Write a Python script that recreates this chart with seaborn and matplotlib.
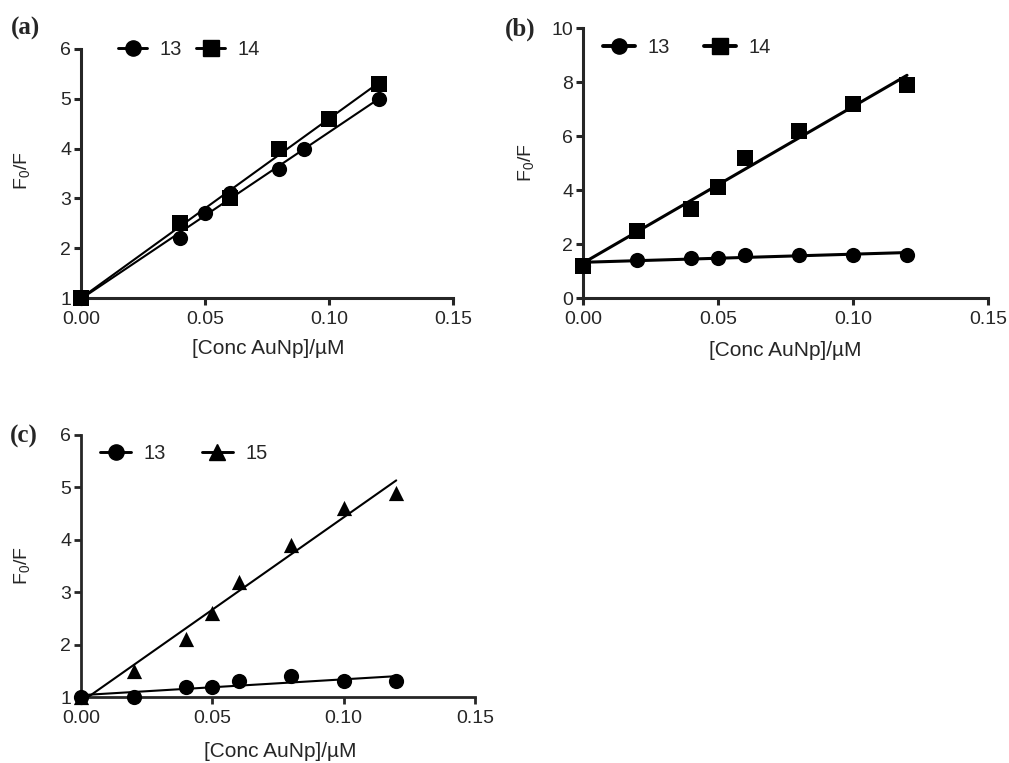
import numpy as np
import matplotlib.pyplot as plt
import seaborn as sns
from matplotlib.lines import Line2D

# ------------------------------------------
# style
# ------------------------------------------
sns.set_style("ticks")
plt.rcParams['font.family'] = ['Liberation Sans', 'DejaVu Sans']
plt.rcParams['mathtext.default'] = 'regular'

# ------------------------------------------
# data
# ------------------------------------------
A_X13 = [0.0, 0.04, 0.05, 0.06, 0.08, 0.09, 0.12]
A_Y13 = [1.0, 2.2, 2.7, 3.1, 3.6, 4.0, 5.0]
A_X14 = [0.0, 0.04, 0.06, 0.08, 0.10, 0.12]
A_Y14 = [1.0, 2.5, 3.0, 4.0, 4.6, 5.3]

CONC = [0.0, 0.02, 0.04, 0.05, 0.06, 0.08, 0.10, 0.12]
B_Y13 = [1.2, 1.4, 1.5, 1.5, 1.6, 1.6, 1.6, 1.6]
B_Y14 = [1.2, 2.5, 3.3, 4.1, 5.2, 6.2, 7.2, 7.9]
C_Y13 = [1.0, 1.0, 1.2, 1.2, 1.3, 1.4, 1.3, 1.3]
C_Y15 = [1.0, 1.5, 2.1, 2.6, 3.2, 3.9, 4.6, 4.9]

X_TICKS = [0.00, 0.05, 0.10, 0.15]
X_LABEL = "[Conc AuNp]/\u00b5M"
Y_LABEL = "F$_0$/F"


def draw_panel(ax, series, ylim, yticks, lw, spine_w, leg_pos, handle_len,
               colspace, ylab_pos, xlab_pos):
    for label, x, y, marker, size in series:
        sns.regplot(x=np.array(x), y=np.array(y), ax=ax, ci=None, marker=marker,
                    color='black',
                    scatter_kws={'s': size, 'alpha': 1, 'linewidths': 0,
                                 'clip_on': False, 'zorder': 4},
                    line_kws={'lw': lw, 'zorder': 3})

    ax.set_xlim(0, 0.15)
    ax.set_ylim(*ylim)
    ax.set_xticks(X_TICKS)
    ax.set_xticklabels([f"{t:.2f}" for t in X_TICKS])
    ax.set_yticks(yticks)
    ax.tick_params(labelsize=14, length=5, width=spine_w, direction='out')
    ax.tick_params(axis='x', pad=4)
    ax.tick_params(axis='y', pad=2)
    for s in ['left', 'bottom']:
        ax.spines[s].set_linewidth(spine_w)
    sns.despine(ax=ax)

    ax.set_xlabel(X_LABEL, fontsize=15)
    ax.set_ylabel(Y_LABEL, fontsize=14)
    ax.xaxis.set_label_coords(*xlab_pos)
    ax.yaxis.set_label_coords(*ylab_pos)

    handles = [Line2D([], [], color='black', lw=lw + 0.6, marker=m,
                      markersize=np.sqrt(s), label=lab)
               for lab, _, _, m, s in series]
    ax.legend(handles=handles, loc='center left', bbox_to_anchor=leg_pos,
              ncol=2, frameon=False, fontsize=14.5, borderpad=0,
              borderaxespad=0, handlelength=handle_len, handletextpad=0.6,
              columnspacing=colspace)


fig = plt.figure(figsize=(10.09, 7.63), dpi=100)
ax_a = fig.add_axes([0.0803, 0.6094, 0.3687, 0.3264])
ax_b = fig.add_axes([0.5778, 0.6094, 0.4014, 0.3539])
ax_c = fig.add_axes([0.0803, 0.0865, 0.3905, 0.3434])

draw_panel(ax_a,
           [('13', A_X13, A_Y13, 'o', 120), ('14', A_X14, A_Y14, 's', 120)],
           (1, 6), [1, 2, 3, 4, 5, 6], 1.5, 2.2,
           (0.10, 0.996), 1.45, 0.7, (-0.132, 0.51), (0.503, -0.165))

draw_panel(ax_b,
           [('13', CONC, B_Y13, 'o', 120), ('14', CONC, B_Y14, 's', 140)],
           (0, 10), [0, 2, 4, 6, 8, 10], 2.2, 2.2,
           (0.05, 0.926), 1.6, 1.7, (-0.116, 0.5), (0.50, -0.16))

draw_panel(ax_c,
           [('13', CONC, C_Y13, 'o', 120), ('15', CONC, C_Y15, '^', 120)],
           (1, 6), [1, 2, 3, 4, 5, 6], 1.5, 2.0,
           (0.048, 0.928), 1.55, 1.8, (-0.124, 0.5), (0.505, -0.17))

for txt, x, y in [('(a)', 0.011, 0.963), ('(b)', 0.5005, 0.962), ('(c)', 0.010, 0.428)]:
    fig.text(x, y, txt, fontsize=18, fontweight='bold', va='center', ha='left',
             family=['Liberation Serif', 'DejaVu Serif'])

fig.savefig("out.png", dpi=100)
